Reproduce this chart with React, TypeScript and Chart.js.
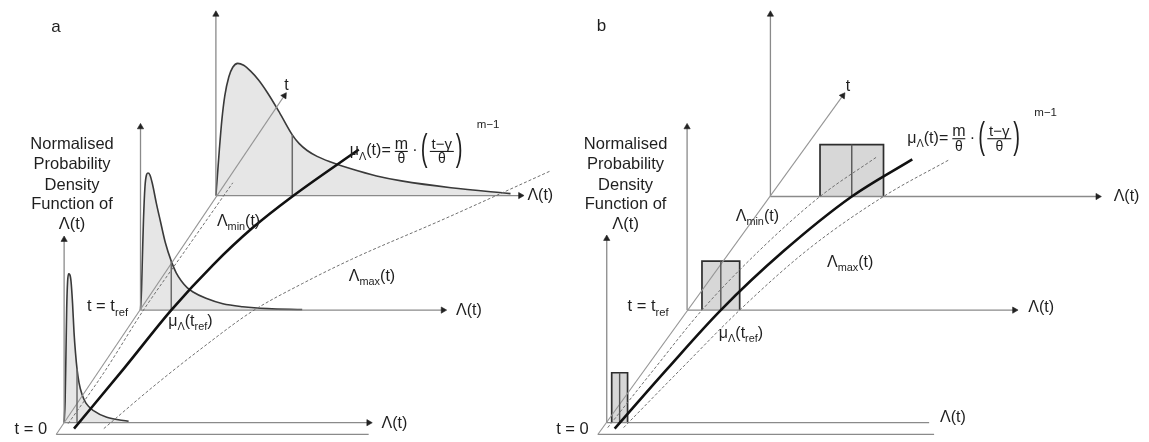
import React, { useEffect, useRef } from 'react';
import { Chart, registerables } from 'chart.js';

Chart.register(...registerables);

type P = [number, number];

// ============ Panel a (continuous pdf) ============
const A_FRAME_ORIGIN: P[] = [[60, 427], [137, 312], [213, 195]];
const A_FRAME_TOP: number[] = [240, 125, 10];
const A_FRAME_END: number[] = [367, 442, 520];
const A_BASE_LINE: P[] = [[52, 439], [367, 439]];
const A_T_AXIS: P[] = [[52, 439], [282, 93]];

const A_PDF_T0: P[] = [
  [60, 427], [61, 405], [61.8, 360], [62.6, 310], [63.5, 283], [64.5, 275], [65.8, 276],
  [67, 283], [68.5, 305], [70, 335], [71.5, 356], [73, 372], [75, 386], [78, 398],
  [82, 407], [90, 415], [103, 421.5], [125, 425.5],
];
const A_PDF_TREF: P[] = [
  [137, 312], [138, 292], [139, 255], [140, 220], [141.5, 186], [143, 174], [144.5, 172],
  [146.5, 174], [149, 183], [153, 203], [157, 221], [162, 243], [168, 262], [173, 274],
  [178, 282], [184, 289], [190, 293.5], [203, 300], [220, 305.5], [240, 308.5],
  [265, 310.5], [300, 311.5],
];
const A_PDF_TLATE: P[] = [
  [213, 195], [214.5, 175], [216.5, 148], [219, 118], [222, 93], [226, 74], [230, 64],
  [235, 60], [241, 62], [248, 68], [256, 77], [265, 90], [277, 110], [290, 133],
  [297, 142], [305, 149], [315, 155], [328, 160.5], [350, 168], [375, 175], [400, 180],
  [450, 187], [510, 193],
];
const A_MEAN_X: number[] = [73, 168, 290];
const A_MEAN_PDF: number[] = [372, 262, 133];

const A_MU: P[] = [[70, 433], [120, 372], [168, 312], [210, 266], [250, 228], [290, 196], [357, 148]];
const A_LMIN: P[] = [[64, 428], [100, 376], [140, 312], [185, 247], [230, 182]];
const A_LMAX: P[] = [[100, 433], [150, 390], [200, 350], [250, 313], [300, 285], [350, 260], [443, 219], [550, 170]];

// ============ Panel b (uniform pdf) ============
const B_FRAME_ORIGIN: P[] = [[607, 427], [688, 312], [772, 196]];
const B_FRAME_TOP: number[] = [239, 125, 10];
const B_FRAME_END: number[] = [932, 1018, 1102];
const B_BASE_LINE: P[] = [[598, 439], [937, 439]];
const B_T_AXIS: P[] = [[598, 439], [845, 93]];

const B_BOX_LEFT: number[] = [612, 703, 822];
const B_BOX_RIGHT: number[] = [628, 741, 886];
const B_BOX_PDF: number[] = [376, 262, 143];
const B_BOX_MEAN: number[] = [620, 722, 854];

const B_MU: P[] = [[615, 433], [668, 372], [722, 312], [785, 252], [854, 196], [915, 158]];
const B_LMIN: P[] = [[608, 432], [655, 372], [703, 312], [760, 252], [822, 196], [880, 155]];
const B_LMAX: P[] = [[624, 432], [682, 372], [741, 312], [810, 250], [886, 196], [953, 158]];

// ============ Text ============
type Seg = { t: string; s?: 'sub' | 'sup' };
type Label = { segs: Seg[]; x: number; y: number; size: number; align?: 'left' | 'center' };

const LAMBDA_T: Seg[] = [{ t: 'Λ(t)' }];
const LAMBDA_MIN: Seg[] = [{ t: 'Λ' }, { t: 'min', s: 'sub' }, { t: '(t)' }];
const LAMBDA_MAX: Seg[] = [{ t: 'Λ' }, { t: 'max', s: 'sub' }, { t: '(t)' }];
const MU_TREF: Seg[] = [{ t: 'μ' }, { t: 'Λ', s: 'sub' }, { t: '(t' }, { t: 'ref', s: 'sub' }, { t: ')' }];
const T_REF: Seg[] = [{ t: 't = t' }, { t: 'ref', s: 'sub' }];
const T_ZERO: Seg[] = [{ t: 't = 0' }];
const Y_TITLE_LINES: string[] = ['Normalised', 'Probability', 'Density', 'Function of', 'Λ(t)'];
const Y_TITLE_X: number[] = [68, 626];
const Y_TITLE_BASELINES: number[] = [147, 168, 189, 209, 229];
const FORMULA_POS: P[] = [[348, 154], [910, 141]];

const LABELS: Label[] = [
  { segs: [{ t: 'a' }], x: 47, y: 28, size: 17 },
  { segs: [{ t: 't' }], x: 282, y: 87, size: 16 },
  { segs: LAMBDA_T, x: 527, y: 200, size: 16 },
  { segs: LAMBDA_T, x: 455, y: 317, size: 16 },
  { segs: LAMBDA_T, x: 380, y: 432, size: 16 },
  { segs: T_ZERO, x: 10, y: 439, size: 16.5 },
  { segs: T_REF, x: 83, y: 313, size: 16.5 },
  { segs: MU_TREF, x: 165, y: 328, size: 16 },
  { segs: LAMBDA_MIN, x: 214, y: 226, size: 16 },
  { segs: LAMBDA_MAX, x: 347, y: 282, size: 16 },

  { segs: [{ t: 'b' }], x: 597, y: 27, size: 17 },
  { segs: [{ t: 't' }], x: 848, y: 88, size: 16 },
  { segs: LAMBDA_T, x: 1118, y: 201, size: 16 },
  { segs: LAMBDA_T, x: 1032, y: 314, size: 16 },
  { segs: LAMBDA_T, x: 943, y: 426, size: 16 },
  { segs: T_ZERO, x: 556, y: 439, size: 16.5 },
  { segs: T_REF, x: 628, y: 313, size: 16.5 },
  { segs: MU_TREF, x: 720, y: 340, size: 16 },
  { segs: LAMBDA_MIN, x: 737, y: 221, size: 16 },
  { segs: LAMBDA_MAX, x: 829, y: 268, size: 16 },
];

// ============ Styles ============
const FONT = '"Liberation Sans", Arial, sans-serif';
const TEXT = '#1f1f1f';
const AXIS = '#8a8a8a';
const ARROW = '#222222';
const PDF_LINE = '#3a3a3a';
const PDF_FILL = '#e6e6e6';
const BOX_FILL = '#d7d7d7';
const MEAN_LINE = '#6a6a6a';
const DASH = '#707070';

const pts = (a: P[]) => a.map(([x, y]) => ({ x, y }));
const heading = (a: P[]) => {
  const [x1, y1] = a[a.length - 2];
  const [x2, y2] = a[a.length - 1];
  return (Math.atan2(x2 - x1, -(y2 - y1)) * 180) / Math.PI;
};

function lineDs(a: P[], color: string, width: number, extra: any = {}) {
  return {
    data: pts(a),
    borderColor: color,
    borderWidth: width,
    pointRadius: 0,
    fill: false,
    tension: 0,
    clip: false,
    ...extra,
  };
}
function arrowDs(a: P[], color: string, width: number) {
  const n = a.length;
  const rot = heading(a);
  return lineDs(a, color, width, {
    pointRadius: a.map((_, i) => (i === n - 1 ? 3.6 : 0)),
    pointStyle: 'triangle',
    pointRotation: a.map(() => rot),
    pointBackgroundColor: ARROW,
    pointBorderColor: ARROW,
    pointBorderWidth: 0.6,
  });
}
function pdfDs(a: P[], base: number) {
  return lineDs(a, PDF_LINE, 1.6, {
    backgroundColor: PDF_FILL,
    fill: { value: base },
    cubicInterpolationMode: 'monotone',
  });
}
function boxDs(l: number, r: number, top: number, base: number) {
  const a: P[] = [[l, base], [l, top], [r, top], [r, base]];
  return lineDs(a, '#2e2e2e', 1.7, {
    backgroundColor: BOX_FILL,
    fill: { value: base },
    borderJoinStyle: 'miter',
  });
}
const curveDs = (a: P[], color: string, width: number, dash: number[] = []) =>
  lineDs(a, color, width, { borderDash: dash, cubicInterpolationMode: 'monotone' });

function buildDatasets() {
  const list: any[] = [];
  list.push(pdfDs(A_PDF_T0, A_FRAME_ORIGIN[0][1]));
  list.push(pdfDs(A_PDF_TREF, A_FRAME_ORIGIN[1][1]));
  list.push(pdfDs(A_PDF_TLATE, A_FRAME_ORIGIN[2][1]));
  B_BOX_LEFT.forEach((l, i) => list.push(boxDs(l, B_BOX_RIGHT[i], B_BOX_PDF[i], B_FRAME_ORIGIN[i][1])));

  A_FRAME_ORIGIN.forEach(([x, y], i) => {
    list.push(arrowDs([[x, y], [x, A_FRAME_TOP[i]]], AXIS, 1.3));
    list.push(arrowDs([[x, y], [A_FRAME_END[i], y]], AXIS, 1.3));
  });
  list.push(lineDs(A_BASE_LINE, AXIS, 1.3));
  list.push(arrowDs(A_T_AXIS, '#959595', 1.1));

  B_FRAME_ORIGIN.forEach(([x, y], i) => {
    list.push(arrowDs([[x, y], [x, B_FRAME_TOP[i]]], AXIS, 1.3));
    if (i === 0) list.push(lineDs([[x, y], [B_FRAME_END[i], y]], AXIS, 1.3));
    else list.push(arrowDs([[x, y], [B_FRAME_END[i], y]], AXIS, 1.3));
  });
  list.push(lineDs(B_BASE_LINE, AXIS, 1.3));
  list.push(arrowDs(B_T_AXIS, '#959595', 1.1));

  A_MEAN_X.forEach((x, i) => list.push(lineDs([[x, A_MEAN_PDF[i]], [x, A_FRAME_ORIGIN[i][1]]], MEAN_LINE, 1.5)));
  B_BOX_MEAN.forEach((x, i) => list.push(lineDs([[x, B_BOX_PDF[i]], [x, B_FRAME_ORIGIN[i][1]]], '#555555', 1.4)));

  list.push(curveDs(A_LMIN, DASH, 1, [3, 2]));
  list.push(curveDs(A_LMAX, DASH, 1, [3, 2]));
  list.push(curveDs(B_LMIN, DASH, 1, [3, 2]));
  list.push(curveDs(B_LMAX, DASH, 1, [3, 2]));

  list.push(curveDs(A_MU, '#111111', 2.6));
  list.push(curveDs(B_MU, '#111111', 2.6));

  const n = list.length;
  return list.map((d, i) => ({ ...d, order: n - i }));
}

function drawRich(ctx: CanvasRenderingContext2D, segs: Seg[], x: number, y: number, size: number, align: 'left' | 'center' = 'left') {
  const sizes = segs.map((s) => (s.s ? size * 0.68 : size));
  const widths = segs.map((s, i) => {
    ctx.font = `${sizes[i]}px ${FONT}`;
    return ctx.measureText(s.t).width;
  });
  const total = widths.reduce((a, b) => a + b, 0);
  let cx = align === 'center' ? x - total / 2 : x;
  segs.forEach((s, i) => {
    ctx.font = `${sizes[i]}px ${FONT}`;
    const dy = s.s === 'sub' ? size * 0.27 : s.s === 'sup' ? -size * 0.45 : 0;
    ctx.fillText(s.t, cx, y + dy);
    cx += widths[i];
  });
}

function drawCentered(ctx: CanvasRenderingContext2D, t: string, cx: number, y: number, size: number) {
  ctx.font = `${size}px ${FONT}`;
  const w = ctx.measureText(t).width;
  ctx.fillText(t, cx - w / 2, y);
}

function drawParen(ctx: CanvasRenderingContext2D, t: string, x: number, B: number) {
  ctx.save();
  ctx.translate(x, B + 5);
  ctx.scale(0.55, 1);
  ctx.font = `37px ${FONT}`;
  ctx.fillText(t, 0, 0);
  ctx.restore();
}

function drawFormula(ctx: CanvasRenderingContext2D, x0: number, B: number) {
  drawRich(ctx, [{ t: 'μ' }, { t: 'Λ', s: 'sub' }, { t: '(t)=' }], x0, B, 16);
  const bar = B - 4.5;
  ctx.fillRect(x0 + 45, bar, 13, 1.1);
  drawCentered(ctx, 'm', x0 + 51.5, bar - 2, 16);
  drawCentered(ctx, 'θ', x0 + 51.5, bar + 12.5, 14);
  drawCentered(ctx, '·', x0 + 65, B, 16);
  drawParen(ctx, '(', x0 + 71, B);
  ctx.fillRect(x0 + 80, bar, 24, 1.1);
  drawCentered(ctx, 't−γ', x0 + 92, bar - 2, 15);
  drawCentered(ctx, 'θ', x0 + 92, bar + 12.5, 14);
  drawParen(ctx, ')', x0 + 106, B);
  ctx.font = `11.5px ${FONT}`;
  ctx.fillText('m−1', x0 + 127, B - 27);
}

const textPlugin = {
  id: 'schematicText',
  afterDraw(chart: any) {
    const ctx: CanvasRenderingContext2D = chart.ctx;
    const X = (v: number) => chart.scales.x.getPixelForValue(v);
    const Y = (v: number) => chart.scales.y.getPixelForValue(v);
    ctx.save();
    ctx.fillStyle = TEXT;
    ctx.textBaseline = 'alphabetic';
    ctx.textAlign = 'left';
    LABELS.forEach((L) => drawRich(ctx, L.segs, X(L.x), Y(L.y), L.size, L.align));
    Y_TITLE_X.forEach((cx) => {
      Y_TITLE_LINES.forEach((line, i) => drawCentered(ctx, line, X(cx), Y(Y_TITLE_BASELINES[i]), 16.5));
    });
    FORMULA_POS.forEach(([fx, fy]) => drawFormula(ctx, X(fx), Y(fy)));
    ctx.restore();
  },
};

export default function App() {
  const ref = useRef<HTMLCanvasElement>(null);
  useEffect(() => {
    if (!ref.current) return;
    const chart = new Chart(ref.current, {
      type: 'line',
      data: { datasets: buildDatasets() },
      options: {
        responsive: false,
        devicePixelRatio: 1,
        animation: false,
        events: [],
        layout: { padding: 0 },
        scales: {
          x: { type: 'linear', min: 0, max: 1149, display: false },
          y: { type: 'linear', min: 0, max: 442, reverse: true, display: false },
        },
        plugins: { legend: { display: false }, tooltip: { enabled: false } },
      },
      plugins: [textPlugin],
    } as any);
    return () => chart.destroy();
  }, []);
  return (
    <div style={{ position: 'absolute', left: 0, top: 0, width: 1149, height: 442, background: '#fff' }}>
      <canvas ref={ref} width={1149} height={442} style={{ display: 'block' }} />
    </div>
  );
}
